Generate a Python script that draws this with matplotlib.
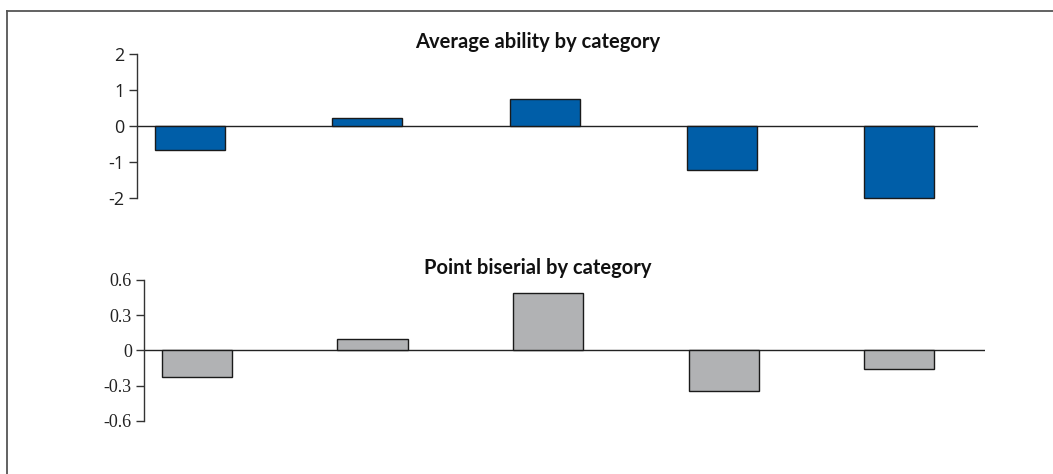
import matplotlib
matplotlib.use("Agg")
import matplotlib.pyplot as plt
from matplotlib.lines import Line2D

# dados
categories = ["1", "2", "3", "4", "5"]
avg_ability = [-0.66, 0.23, 0.75, -1.21, -2.0]
point_biserial = [-0.23, 0.094, 0.49, -0.35, -0.157]

ability_ticks = [-2, -1, 0, 1, 2]
biserial_ticks = [-0.6, -0.3, 0, 0.3, 0.6]
biserial_labels = ["-0.6", "-0.3", "0", "0.3", "0.6"]

BLUE = "#005ea8"
GREY = "#b1b2b4"
W, H = 1053, 474


def style_axis(ax, ticks, labels, family, lim):
    ax.set_ylim(*lim)
    ax.set_yticks(ticks)
    ax.set_yticklabels(labels, family=family, fontsize=13)
    ax.set_xticks([])
    for side in ["top", "right", "bottom"]:
        ax.spines[side].set_visible(False)
    ax.spines["left"].set_color("#333333")
    ax.spines["left"].set_linewidth(1.0)
    ax.spines["left"].set_bounds(lim[0], lim[1])
    ax.tick_params(axis="y", direction="out", length=6, width=1.0,
                   color="#333333", pad=3, labelcolor="#222222")
    ax.axhline(0, color="#222222", linewidth=1.0, zorder=1)
    ax.patch.set_alpha(0)


fig = plt.figure(figsize=(W / 100, H / 100), dpi=100)

# painel de cima
ax1 = fig.add_axes([137 / W, 1 - 198.3 / H, 841 / W, 144 / H])
x = range(len(categories))
ax1.bar(x, avg_ability, width=0.395, color=BLUE, edgecolor="#1a1a1a",
        linewidth=1.0, zorder=2, clip_on=False)
ax1.set_xlim(-0.30, 4.446)
style_axis(ax1, ability_ticks, [str(t) for t in ability_ticks], "Open Sans", (-2, 2))
fig.text(538 / W, 1 - 42 / H, "Average ability by category", ha="center", va="center",
         family="Lato", fontweight="bold", fontsize=14.5, color="#111111")

# painel de baixo
ax2 = fig.add_axes([144.3 / W, 1 - 420.7 / H, 840.4 / W, 140.7 / H])
ax2.bar(x, point_biserial, width=0.40, color=GREY, edgecolor="#1a1a1a",
        linewidth=1.0, zorder=2, clip_on=False)
ax2.set_xlim(-0.30, 4.486)
style_axis(ax2, biserial_ticks, biserial_labels, "Liberation Serif", (-0.6, 0.6))
fig.text(538 / W, 1 - 268 / H, "Point biserial by category", ha="center", va="center",
         family="Lato", fontweight="bold", fontsize=14.5, color="#111111")

# moldura (linha de cima e da esquerda)
fig.add_artist(Line2D([7 / W, 1.0], [1 - 11 / H, 1 - 11 / H], transform=fig.transFigure,
                      color="#555555", linewidth=1.3))
fig.add_artist(Line2D([7 / W, 7 / W], [0, 1 - 11 / H], transform=fig.transFigure,
                      color="#555555", linewidth=1.3))

fig.savefig("out.png", dpi=100)
